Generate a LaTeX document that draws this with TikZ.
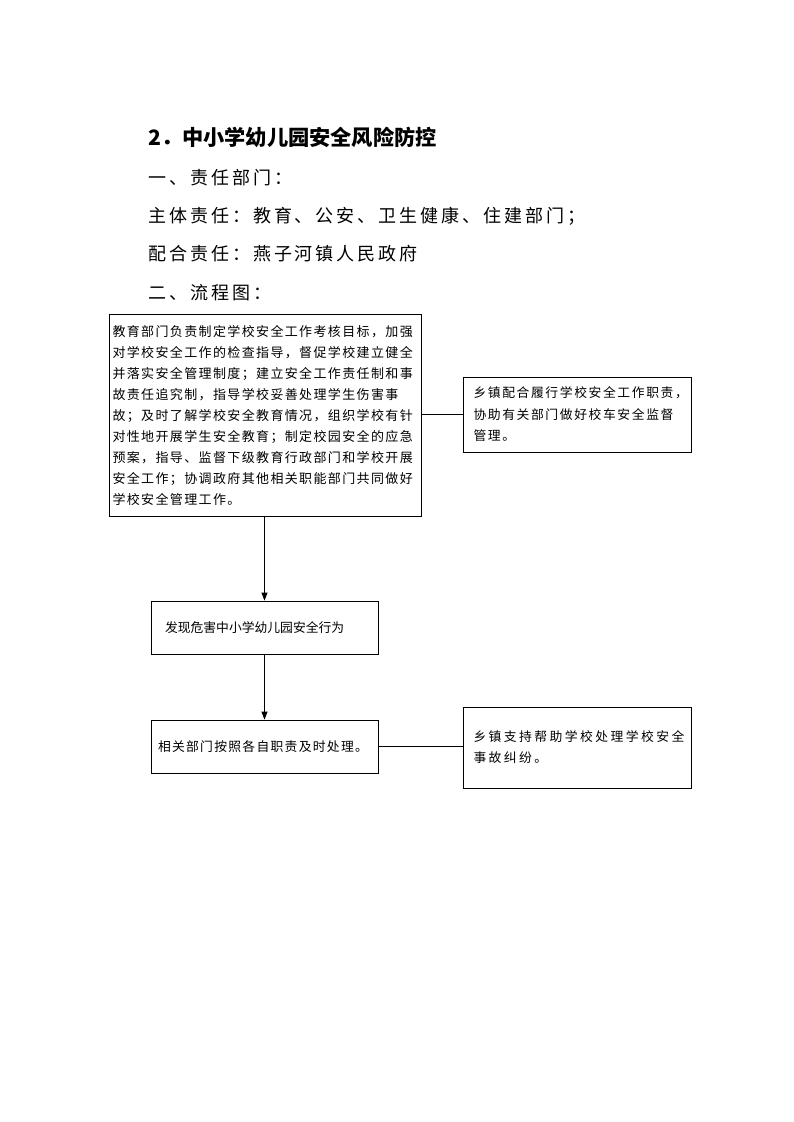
\documentclass[tikz,border=0pt]{standalone}
\usepackage{fontspec}
\setmainfont{Noto Sans CJK SC}
\usetikzlibrary{arrows.meta}
\tikzset{
  box/.style={draw=black, line width=0.8pt, inner sep=0pt, align=left, font=\fontsize{13}{21}\selectfont\addfontfeature{LetterSpace=10.5}},
  head/.style={anchor=base west, inner sep=0pt, font=\fontsize{18}{18}\selectfont\addfontfeature{LetterSpace=16.5}},
  conn/.style={line width=0.8pt, black},
  arr/.style={conn, -{Triangle[length=8pt,width=6pt]}}
}
\begin{document}
\begin{tikzpicture}[x=1pt,y=-1pt]
\useasboundingbox[fill=white] (0,0) rectangle (793,1122);
\node[anchor=base west, inner sep=0pt, font=\fontsize{21.2}{21.2}\selectfont\bfseries] (title) at (148,145) {2．中小学幼儿园安全风险防控};
\node[head] (h1) at (148,184) {一、责任部门：};
\node[head] (h2) at (148,222) {主体责任：教育、公安、卫生健康、住建部门；};
\node[head] (h3) at (148,260) {配合责任：燕子河镇人民政府};
\node[head] (h4) at (148,299) {二、流程图：};

\node[box, minimum width=312pt, minimum height=202pt, text width=305pt] (b1) at (265,415) {教育部门负责制定学校安全工作考核目标，加强\\对学校安全工作的检查指导，督促学校建立健全\\并落实安全管理制度；建立安全工作责任制和事\\故责任追究制，指导学校妥善处理学生伤害事\\故；及时了解学校安全教育情况，组织学校有针\\对性地开展学生安全教育；制定校园安全的应急\\预案，指导、监督下级教育行政部门和学校开展\\安全工作；协调政府其他相关职能部门共同做好\\学校安全管理工作。};

\node[box, minimum width=228pt, minimum height=75pt, text width=207pt, font=\fontsize{12.8}{21.5}\selectfont\addfontfeature{LetterSpace=12.5}] (b2) at (577,414.5) {乡镇配合履行学校安全工作职责，\\协助有关部门做好校车安全监督\\管理。};

\node[box, minimum width=227pt, minimum height=53pt, text width=199pt, font=\fontsize{12.8}{21}\selectfont] (b3) at (264.5,627.5) {发现危害中小学幼儿园安全行为};

\node[box, minimum width=227pt, minimum height=53pt, text width=213pt, font=\fontsize{12.8}{21}\selectfont\addfontfeature{LetterSpace=10}] (b4) at (264.5,746.5) {相关部门按照各自职责及时处理。};

\node[box, minimum width=228pt, minimum height=81pt, text width=207pt, font=\fontsize{12.8}{21}\selectfont\addfontfeature{LetterSpace=19}] (b5) at (577,747.5) {\raisebox{5pt}{\parbox[t]{215pt}{乡镇支持帮助学校处理学校安全\\事故纠纷。}}};

\draw[conn] (b1.east |- b2.west) -- (b2.west);
\draw[arr] (b1.south -| b3.north) -- (b3.north);
\draw[arr] (b3.south) -- (b4.north);
\draw[conn] (b4.east) -- (b4.east -| b5.west);
\end{tikzpicture}
\end{document}
